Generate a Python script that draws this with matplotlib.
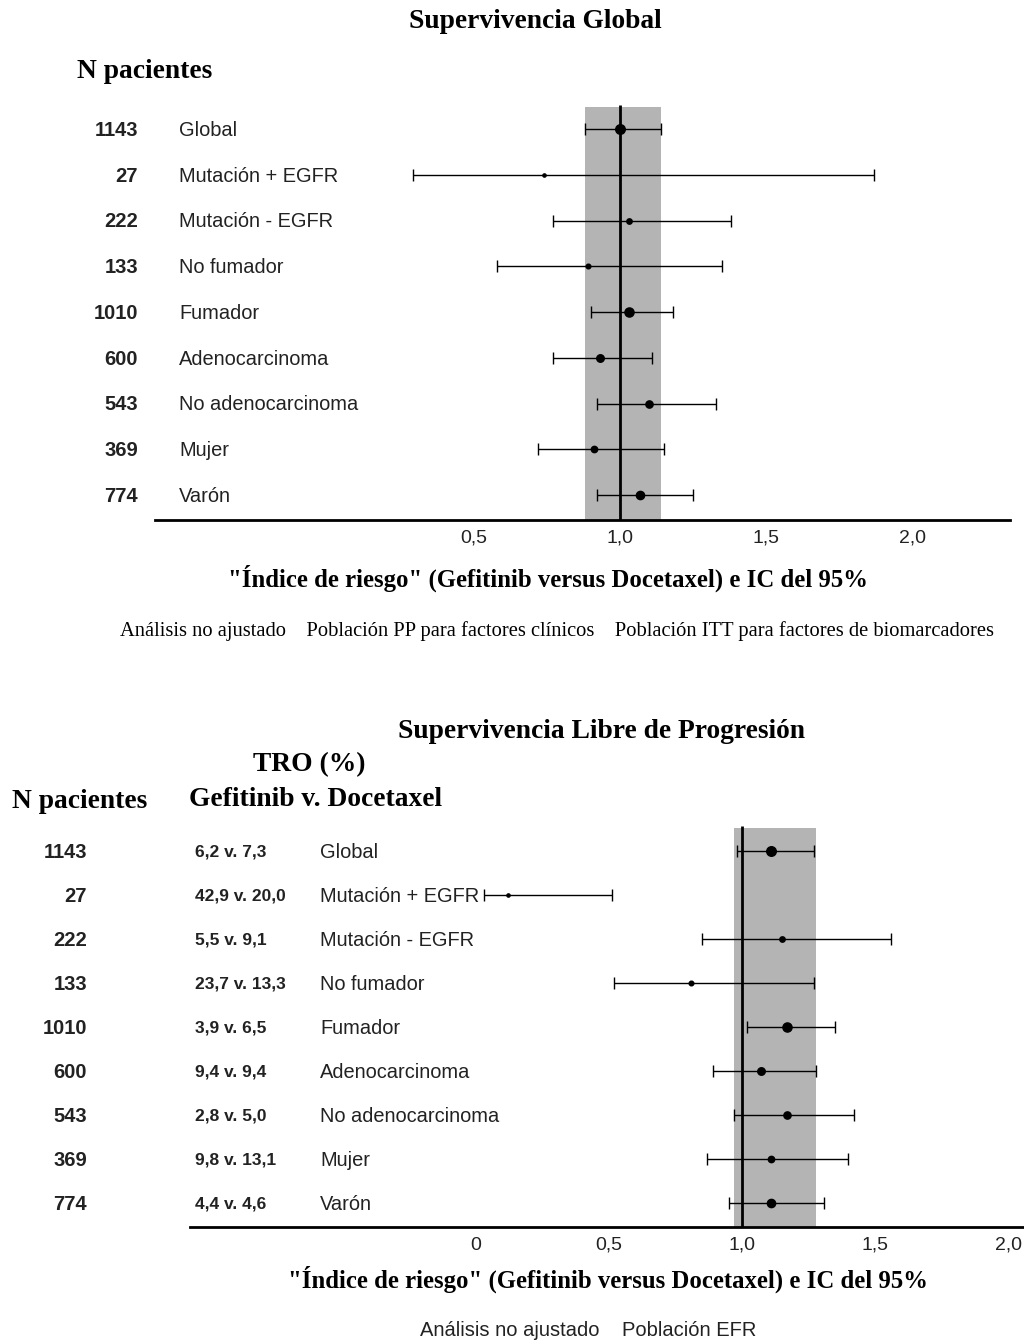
import numpy as np
import matplotlib.pyplot as plt
import matplotlib.transforms as mtransforms

# Datos
subgrupos = ['Global', 'Mutación + EGFR', 'Mutación - EGFR', 'No fumador', 'Fumador',
             'Adenocarcinoma', 'No adenocarcinoma', 'Mujer', 'Varón']
n_pacientes = [1143, 27, 222, 133, 1010, 600, 543, 369, 774]

# Supervivencia global: HR e IC 95%
sg_hr = [1.00, 0.74, 1.03, 0.89, 1.03, 0.93, 1.10, 0.91, 1.07]
sg_lo = [0.88, 0.29, 0.77, 0.58, 0.90, 0.77, 0.92, 0.72, 0.92]
sg_hi = [1.14, 1.87, 1.38, 1.35, 1.18, 1.11, 1.33, 1.15, 1.25]
sg_banda = (0.88, 1.14)

# Supervivencia libre de progresion
slp_hr = [1.11, 0.12, 1.15, 0.81, 1.17, 1.07, 1.17, 1.11, 1.11]
slp_lo = [0.98, 0.03, 0.85, 0.52, 1.02, 0.89, 0.97, 0.87, 0.95]
slp_hi = [1.27, 0.51, 1.56, 1.27, 1.35, 1.28, 1.42, 1.40, 1.31]
slp_banda = (0.97, 1.28)
tro = ['6,2 v. 7,3', '42,9 v. 20,0', '5,5 v. 9,1', '23,7 v. 13,3', '3,9 v. 6,5',
       '9,4 v. 9,4', '2,8 v. 5,0', '9,8 v. 13,1', '4,4 v. 4,6']

sg_ticks = [0.5, 1.0, 1.5, 2.0]
slp_ticks = [0, 0.5, 1.0, 1.5, 2.0]

W, H = 1024, 1340
SERIF = 'Liberation Serif'
SANS = 'Liberation Sans'
TXT = '#222222'

fig = plt.figure(figsize=(W / 100, H / 100), dpi=100)


def rect(x0, y0, x1, y1):
    return [x0 / W, 1 - y1 / H, (x1 - x0) / W, (y1 - y0) / H]


def ftext(x, y, s, **kw):
    fig.text(x / W, 1 - y / H, s, **kw)


def forest(ax, hr, lo, hi, banda, ticks, xlim, ylim, band_top):
    ax.set_xlim(*xlim)
    ax.set_ylim(*ylim)
    ax.fill_betweenx([band_top, ylim[0]], banda[0], banda[1], color='#b4b4b4', lw=0, zorder=1)
    ax.vlines(1.0, band_top - 0.05, ylim[0], color='black', lw=2, zorder=2)
    for i in range(len(hr)):
        ms = 1.5 + 0.16 * np.sqrt(n_pacientes[i])
        ax.errorbar(hr[i], i, xerr=[[hr[i] - lo[i]], [hi[i] - hr[i]]], fmt='o', color='black',
                    ms=ms, elinewidth=1, capsize=4, capthick=1, zorder=3)
    for s in ['top', 'left', 'right']:
        ax.spines[s].set_visible(False)
    ax.spines['bottom'].set_linewidth(2)
    ax.set_yticks([])
    ax.set_xticks(ticks)
    ax.set_xticklabels([('%.1f' % t).replace('.', ',') if t else '0' for t in ticks],
                       fontname=SANS, fontsize=14, color=TXT)
    ax.tick_params(axis='x', length=0, pad=7)
    ax.patch.set_alpha(0)


# ---- Supervivencia Global ----
ax1 = fig.add_axes(rect(155, 100, 1010, 520))
x0, k = 328, 292
ylim1 = ((520 - 129) / 45.75, (100 - 129) / 45.75)
forest(ax1, sg_hr, sg_lo, sg_hi, sg_banda, sg_ticks,
       ((155 - x0) / k, (1010 - x0) / k), ylim1, (107 - 129) / 45.75)
tr1 = mtransforms.blended_transform_factory(fig.transFigure, ax1.transData)
for i in range(len(subgrupos)):
    ax1.text(138 / W, i + 0.03, str(n_pacientes[i]), transform=tr1, ha='right', va='center',
             fontname=SANS, fontsize=14.5, fontweight='bold', color=TXT)
    ax1.text(179 / W, i + 0.03, subgrupos[i], transform=tr1, ha='left', va='center',
             fontname=SANS, fontsize=14.4, color=TXT)

ftext(535, 22, 'Supervivencia Global', ha='center', va='center', fontname=SERIF,
      fontsize=19.8, fontweight='bold')
ftext(77, 72, 'N pacientes', ha='left', va='center', fontname=SERIF, fontsize=19.8,
      fontweight='bold')
ftext(548, 578, '"Índice de riesgo" (Gefitinib versus Docetaxel) e IC del 95%', ha='center',
      va='center', fontname=SERIF, fontsize=17.8, fontweight='bold')
ftext(557, 631, 'Análisis no ajustado    Población PP para factores clínicos    '
      'Población ITT para factores de biomarcadores', ha='center', va='center',
      fontname=SERIF, fontsize=14.8)

# ---- Supervivencia Libre de Progresion ----
ax2 = fig.add_axes(rect(190, 820, 1024, 1227))
x0, k = 476, 266
ylim2 = ((1227 - 851) / 44, (820 - 851) / 44)
forest(ax2, slp_hr, slp_lo, slp_hi, slp_banda, slp_ticks,
       ((190 - x0) / k, (1024 - x0) / k), ylim2, (828 - 851) / 44)
tr2 = mtransforms.blended_transform_factory(fig.transFigure, ax2.transData)
for i in range(len(subgrupos)):
    ax2.text(87 / W, i + 0.03, str(n_pacientes[i]), transform=tr2, ha='right', va='center',
             fontname=SANS, fontsize=14.5, fontweight='bold', color=TXT)
    ax2.text(195 / W, i + 0.03, tro[i], transform=tr2, ha='left', va='center',
             fontname=SANS, fontsize=12.5, fontweight='bold', color=TXT)
    ax2.text(320 / W, i + 0.03, subgrupos[i], transform=tr2, ha='left', va='center',
             fontname=SANS, fontsize=14.4, color=TXT)

ftext(601, 731, 'Supervivencia Libre de Progresión', ha='center', va='center', fontname=SERIF,
      fontsize=19.8, fontweight='bold')
ftext(309, 765, 'TRO (%)', ha='center', va='center', fontname=SERIF, fontsize=19.8,
      fontweight='bold')
ftext(12, 802, 'N pacientes', ha='left', va='center', fontname=SERIF, fontsize=19.8,
      fontweight='bold')
ftext(189, 800, 'Gefitinib v. Docetaxel', ha='left', va='center', fontname=SERIF,
      fontsize=19.8, fontweight='bold')
ftext(608, 1279, '"Índice de riesgo" (Gefitinib versus Docetaxel) e IC del 95%', ha='center',
      va='center', fontname=SERIF, fontsize=17.8, fontweight='bold')
ftext(588, 1330, 'Análisis no ajustado    Población EFR', ha='center', va='center',
      fontname=SANS, fontsize=14.5, color=TXT)

fig.savefig('out.png', dpi=100)
